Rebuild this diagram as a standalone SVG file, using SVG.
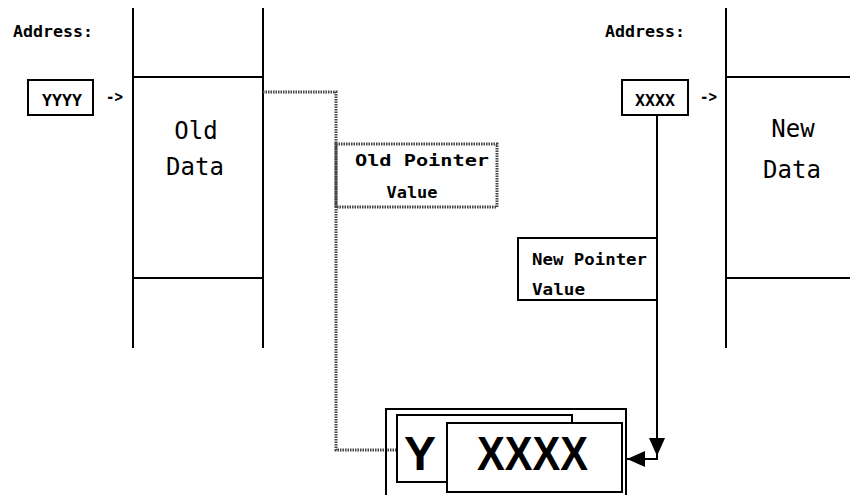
<svg xmlns="http://www.w3.org/2000/svg" width="850" height="495" viewBox="0 0 850 495">
<style>
.ln{stroke:#000;stroke-width:2;fill:none}
.box{stroke:#000;stroke-width:2;fill:#fff}
.dot{stroke:#444;stroke-width:3;stroke-dasharray:1.5 1;fill:none}
.lbl{font-family:"DejaVu Sans Mono","Liberation Mono",monospace;font-weight:bold;font-size:16px;fill:#000}
.big{font-family:"DejaVu Sans Mono","Liberation Mono",monospace;font-size:24px;fill:#000}
.huge{font-family:"Liberation Sans",Arial,sans-serif;font-weight:bold;font-size:48px;fill:#000}
</style>
<defs>
<marker id="ah" viewBox="0 0 18 16" refX="18" refY="8" markerWidth="18" markerHeight="16" markerUnits="userSpaceOnUse" orient="auto">
<path d="M0,0 L18,8 L0,16 Z" fill="#000"/>
</marker>
</defs>
<rect width="850" height="495" fill="#fff"/>
<g id="old-memory">
<path class="ln" d="M133,8 V348 M263,8 V348 M133,77 H263 M133,278 H263"/>
<text class="big" x="196" y="139" text-anchor="middle">Old</text>
<text class="big" x="195" y="175" text-anchor="middle">Data</text>
</g>
<g id="old-address">
<text class="lbl" x="13" y="37" textLength="80" lengthAdjust="spacingAndGlyphs">Address:</text>
<rect class="box" x="28" y="80" width="65" height="35"/>
<text class="lbl" x="62" y="106" text-anchor="middle" textLength="40" lengthAdjust="spacingAndGlyphs">YYYY</text>
<text class="lbl" x="106" y="102" textLength="17" lengthAdjust="spacingAndGlyphs">-&gt;</text>
</g>
<g id="new-memory">
<path class="ln" d="M726,8 V348 M726,77 H850 M726,278 H850"/>
<text class="big" x="793" y="137" text-anchor="middle">New</text>
<text class="big" x="792" y="178" text-anchor="middle">Data</text>
</g>
<g id="new-address">
<text class="lbl" x="605" y="37" textLength="80" lengthAdjust="spacingAndGlyphs">Address:</text>
<rect class="box" x="622" y="80" width="66" height="35"/>
<text class="lbl" x="655" y="106" text-anchor="middle" textLength="40" lengthAdjust="spacingAndGlyphs">XXXX</text>
<text class="lbl" x="700" y="102" textLength="17" lengthAdjust="spacingAndGlyphs">-&gt;</text>
</g>
<g id="connectors">
<path class="dot" d="M263,92 H336 V450 H397"/>
<path class="ln" d="M657,115 V456" marker-end="url(#ah)"/>
<path class="ln" d="M657,455 V459 H627" marker-end="url(#ah)"/>
</g>
<g id="old-pointer-value">
<rect class="dot" x="336" y="144" width="161" height="63" fill="#fff"/>
<text class="lbl" x="422" y="166" text-anchor="middle" textLength="134" lengthAdjust="spacingAndGlyphs">Old Pointer</text>
<text class="lbl" x="412" y="198" text-anchor="middle" textLength="51" lengthAdjust="spacingAndGlyphs">Value</text>
</g>
<g id="new-pointer-value">
<rect class="box" x="518" y="238" width="139" height="62"/>
<text class="lbl" x="532" y="265" textLength="115" lengthAdjust="spacingAndGlyphs">New Pointer</text>
<text class="lbl" x="532" y="295" textLength="53" lengthAdjust="spacingAndGlyphs">Value</text>
</g>
<g id="pointer-storage">
<path class="ln" d="M386,496 V409 H626 V496"/>
<rect class="box" x="397" y="415" width="175" height="67"/>
<text class="huge" x="420" y="470" text-anchor="middle">Y</text>
<rect class="box" x="447" y="423" width="175" height="69"/>
<text class="huge" x="477" y="470" textLength="111" lengthAdjust="spacingAndGlyphs">XXXX</text>
</g>
</svg>
